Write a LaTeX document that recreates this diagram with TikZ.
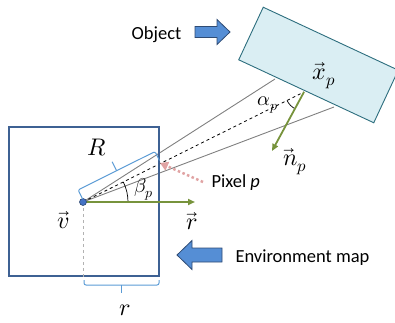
\documentclass[tikz,border=0pt]{standalone}
\usepackage{fontspec}
\usepackage{unicode-math}
\setmainfont{Carlito}
\usetikzlibrary{arrows.meta,angles}

\definecolor{mapblue}{HTML}{3E6193}
\definecolor{objfill}{HTML}{DAEEF3}
\definecolor{objborder}{HTML}{2D6E7E}
\definecolor{vecgreen}{HTML}{77933C}
\definecolor{braceblue}{HTML}{5B9BD5}
\definecolor{pixpink}{HTML}{E0A3A3}
\definecolor{shapeblue}{HTML}{558ED5}
\definecolor{shapeborder}{HTML}{2F4B73}
\definecolor{dotblue}{HTML}{4472C4}

\begin{document}
\begin{tikzpicture}[x=1pt,y=1pt,
    lbl/.style={font=\fontsize{18.5}{20}\selectfont},
    mth/.style={font=\fontsize{24}{26}\selectfont},
    smth/.style={font=\fontsize{20}{22}\selectfont},
    vecarrow/.style={draw=vecgreen, line width=1.8pt, -{Triangle[length=7pt,width=6pt]}},
    ray/.style={draw=gray, line width=0.9pt},
    bracket/.style={draw=braceblue, line width=1pt, rounded corners=2pt},
    blockarrow/.style={fill=shapeblue, draw=shapeborder, line width=0.8pt}]
    \useasboundingbox (0,0) rectangle (395,322);

    % Punkte
    \coordinate (v) at (83,120);
    \coordinate (xp) at (304,230);
    \coordinate (g1) at (275,243);
    \coordinate (g2) at (334,215);
    \coordinate (rtip) at (195,120);
    \coordinate (ntip) at (272,171);
    \coordinate (pixstart) at (203,140);
    \coordinate (pixhit) at (160,159);
    \coordinate (vfoot) at (83,45);

    % Objekt
    \node[draw=objborder, fill=objfill, line width=0.9pt, minimum width=149pt,
          minimum height=58pt, rotate=-25, inner sep=0pt] (obj) at (318.5,257) {};

    % Strahlen
    \draw[ray] (v) -- (g1);
    \draw[ray] (v) -- (g2);
    \draw[black, line width=0.8pt, dashed] (v) -- (xp);

    % Environment map
    \draw[draw=mapblue, line width=2.2pt] (9,46) rectangle (159,195);
    \draw[gray!60, line width=0.8pt, dashed] (v) -- (vfoot);

    % Winkel
    \pic[draw, line width=0.7pt, angle radius=45pt] {angle=rtip--v--xp};
    \pic[draw, line width=0.7pt, angle radius=19pt] {angle=v--xp--ntip};
    \node[smth] (beta) at (144,133) {$\beta_p$};
    \node[smth] (alpha) at (268,217) {$\alpha_p$};

    % Vektoren
    \draw[vecarrow] (v) -- (rtip);
    \draw[vecarrow] (xp) -- (ntip);
    \draw[pixpink, line width=2.5pt, dash pattern=on 2.5pt off 2.5pt,
          -{Triangle[length=8pt,width=9pt]}] (pixstart) -- (pixhit);
    \fill[dotblue, draw=shapeborder, line width=0.6pt] (v) circle (3.5pt);

    % Klammern
    \begin{scope}[shift={(v)}, rotate=26.5]
        \draw[bracket] (1,3) -- (1,13) -- (87,13) -- (87,3);
        \draw[bracket] (44,13) -- (44,23);
    \end{scope}
    \draw[bracket] (84,42) -- (84,37) -- (159,37) -- (159,42);
    \draw[bracket] (121.5,37) -- (121.5,29);

    % Beschriftungen
    \node[mth] (Rlbl) at (97,174) {$R$};
    \node[mth] (vlbl) at (63,102) {$\vec{v}$};
    \node[mth] (rlbl) at (192,101) {$\vec{r}$};
    \node[mth] (nlbl) at (295,160) {$\vec{n}_p$};
    \node[mth] (xlbl) at (324,246) {$\vec{x}_p$};
    \node[mth] (rlen) at (125,12) {$r$};
    \node[lbl, anchor=west] (pixlbl) at (208,139) {Pixel \textit{p}};
    \node[lbl] (objlbl) at (156.5,287) {Object};
    \node[lbl] (envlbl) at (302.5,64) {Environment map};

    % Blockpfeile
    \draw[blockarrow] (195,284.5) -- (217,284.5) -- (217,277.5) -- (230,290)
        -- (217,302.5) -- (217,295.5) -- (195,295.5) -- cycle;
    \draw[blockarrow] (222,60) -- (192,60) -- (192,52.5) -- (177,67)
        -- (192,81.5) -- (192,74) -- (222,74) -- cycle;
\end{tikzpicture}
\end{document}
